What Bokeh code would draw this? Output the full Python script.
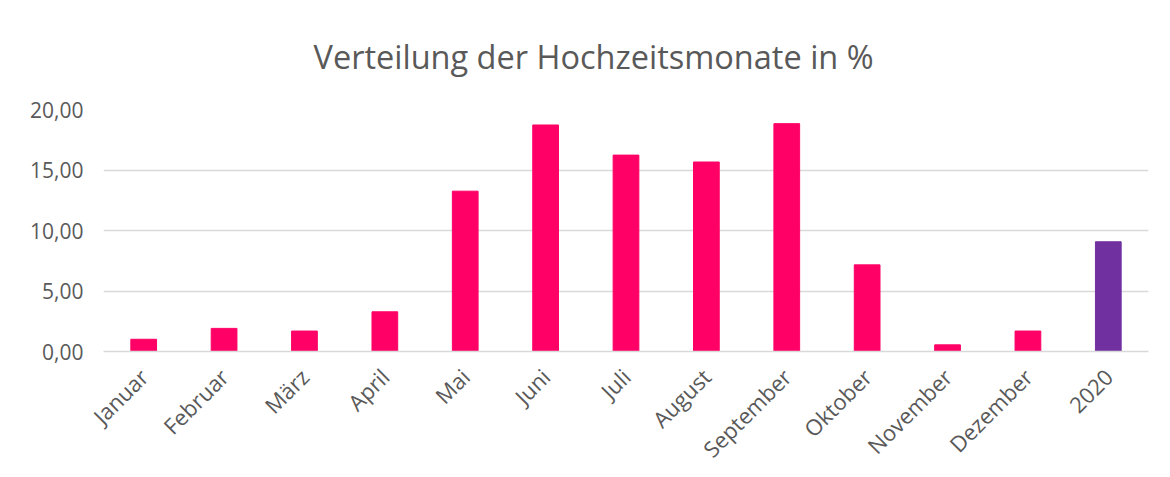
import math
from bokeh.plotting import figure
from bokeh.models import ColumnDataSource, CustomJSTickFormatter, FixedTicker
from bokeh.embed import file_html
from bokeh.resources import INLINE

title_text = "Verteilung der Hochzeitsmonate in %"
categories = ["Januar", "Februar", "März", "April", "Mai", "Juni", "Juli",
              "August", "September", "Oktober", "November", "Dezember", "2020"]
values = [1.01, 1.91, 1.69, 3.28, 13.25, 18.72, 16.23, 15.66, 18.83, 7.16, 0.55, 1.69, 9.07]
colors = ["#FF0066"] * 12 + ["#7030A0"]
y_ticks = [0, 5, 10, 15, 20]

src = ColumnDataSource(dict(cat=categories, val=values, col=colors))

p = figure(x_range=categories, y_range=(0, 20), width=1154, height=476,
           output_backend="svg", toolbar_location=None, title=title_text)
p.min_border_left = 103
p.min_border_right = 6
p.min_border_top = 108
p.min_border_bottom = 109
p.outline_line_color = None

p.vbar(x="cat", top="val", width=0.32, color="col", source=src)

p.title.align = "left"
p.title.offset = 210
p.title.text_font = "Open Sans"
p.title.text_font_style = "normal"
p.title.text_font_size = "32.5px"
p.title.text_color = "#595959"
p.title.standoff = 62

p.yaxis.ticker = FixedTicker(ticks=y_ticks)
p.yaxis.formatter = CustomJSTickFormatter(code="return tick.toFixed(2).replace('.', ',');")
p.yaxis.axis_line_color = None
p.yaxis.major_tick_line_color = None
p.yaxis.minor_tick_line_color = None
p.yaxis.major_label_text_font = "Open Sans"
p.yaxis.major_label_text_font_size = "21px"
p.yaxis.major_label_text_color = "#595959"
p.yaxis.major_label_standoff = 14

p.xaxis.axis_line_color = "#d9d9d9"
p.xaxis.axis_line_width = 1.5
p.xaxis.major_tick_line_color = None
p.xaxis.minor_tick_line_color = None
p.xaxis.major_label_orientation = math.pi / 4
p.xaxis.major_label_text_font = "Open Sans"
p.xaxis.major_label_text_font_size = "22px"
p.xaxis.major_label_text_color = "#595959"
p.xaxis.major_label_standoff = 15

p.xgrid.grid_line_color = None
p.ygrid.grid_line_color = "#d9d9d9"
p.ygrid.grid_line_width = 1.5

open("out.html", "w").write(file_html(p, INLINE))
